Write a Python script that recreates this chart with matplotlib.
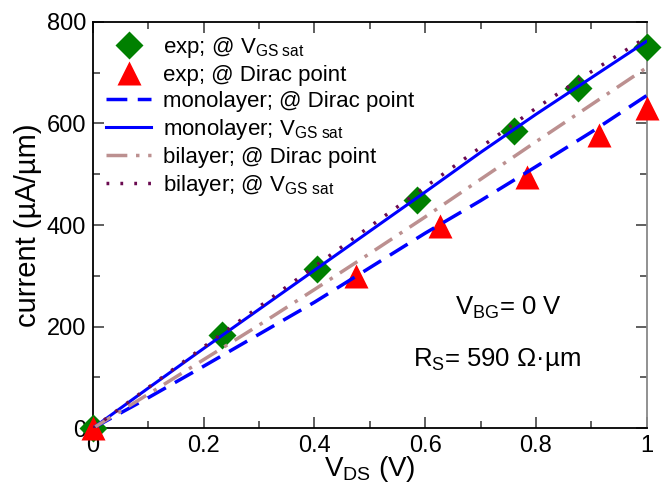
import matplotlib
matplotlib.use('Agg')
import matplotlib.pyplot as plt
from matplotlib.ticker import MultipleLocator

plt.rcParams['font.family'] = ['Liberation Sans', 'DejaVu Sans']
plt.rcParams['mathtext.fontset'] = 'custom'
plt.rcParams['mathtext.rm'] = 'Liberation Sans'
plt.rcParams['mathtext.it'] = 'Liberation Sans:italic'

# experimental points
exp_sat_x = [0, 0.233, 0.405, 0.585, 0.76, 0.875, 1.0]
exp_sat_y = [0, 184, 313, 449, 585, 669, 751]
exp_dirac_x = [0, 0.475, 0.626, 0.783, 0.914, 1.0]
exp_dirac_y = [0, 300, 398, 495, 577, 630]

# simulated curves
vds = [0, 0.1, 0.2, 0.3, 0.4, 0.5, 0.6, 0.7, 0.8, 0.9, 1.0]
mono_dirac = [0, 60, 122, 185, 248, 316, 384, 448, 515, 583, 655]
mono_sat = [0, 79, 157, 234, 311, 388, 465, 543, 618, 690, 762]
bi_dirac = [0, 67, 135, 203, 273, 344, 416, 490, 564, 637, 710]
bi_sat = [0, 80, 160, 239, 318, 397, 475, 553, 630, 702, 770]

fig = plt.figure(figsize=(6.64, 4.86), dpi=100)
ax = fig.add_axes([0.140, 0.119, 0.834, 0.836])

ax.plot(exp_sat_x, exp_sat_y, 'D', color='#008000', ms=14, mec='none',
        label=r'exp; @ V$_\mathrm{GS\ sat}$', zorder=3, clip_on=False)
ax.plot(exp_dirac_x, exp_dirac_y, '^', color='#ff0000', ms=17, mec='none',
        label='exp; @ Dirac point', zorder=3, clip_on=False)
ax.plot(vds, mono_dirac, color='#0000ff', lw=2.5, dashes=(6, 3),
        label='monolayer; @ Dirac point', zorder=4)
ax.plot(vds, mono_sat, color='#0000ff', lw=2.2,
        label=r'monolayer; V$_\mathrm{GS\ sat}$', zorder=4)
ax.plot(vds, bi_dirac, color='#bc9090', lw=2.5, dashes=(6, 2.5, 1, 2.5),
        label='bilayer; @ Dirac point', zorder=4)
ax.plot(vds, bi_sat, color='#6a0a50', lw=2.5, dashes=(0.8, 3.2),
        label=r'bilayer; @ V$_\mathrm{GS\ sat}$', zorder=4)

ax.set_xlim(0, 1)
ax.set_ylim(0, 800)
ax.xaxis.set_minor_locator(MultipleLocator(0.1))
ax.yaxis.set_major_locator(MultipleLocator(200))
ax.yaxis.set_minor_locator(MultipleLocator(100))
ax.set_xticks([0, 0.2, 0.4, 0.6, 0.8, 1.0])
ax.set_xticklabels(['0', '0.2', '0.4', '0.6', '0.8', '1'])

ax.tick_params(which='both', direction='in', top=True, right=True,
               labelsize=17, width=1.2, colors='#444444', labelcolor='black')
ax.tick_params(which='major', length=8, pad=5)
ax.tick_params(which='minor', length=5)
for s in ax.spines.values():
    s.set_linewidth(1.3)
ax.spines['right'].set_color('#888888')

ax.set_xlabel(r'V$_\mathrm{DS}$ (V)', fontsize=20, labelpad=-2)
ax.set_ylabel(u'current (\u00b5A/\u00b5m)', fontsize=21, labelpad=3)

ax.text(0.751, 236, r'V$_\mathrm{BG}$= 0 V', fontsize=18.5, ha='center', va='center')
ax.text(0.729, 136, u'R$_\\mathrm{S}$= 590 \u03a9\u00b7\u00b5m', fontsize=18.5,
        ha='center', va='center')

ax.legend(loc='upper left', frameon=False, fontsize=16, handlelength=2.0,
          handletextpad=0.55, labelspacing=0.22, borderaxespad=0.2,
          bbox_to_anchor=(0.0, 1.0))

fig.savefig('out.png', dpi=100)
